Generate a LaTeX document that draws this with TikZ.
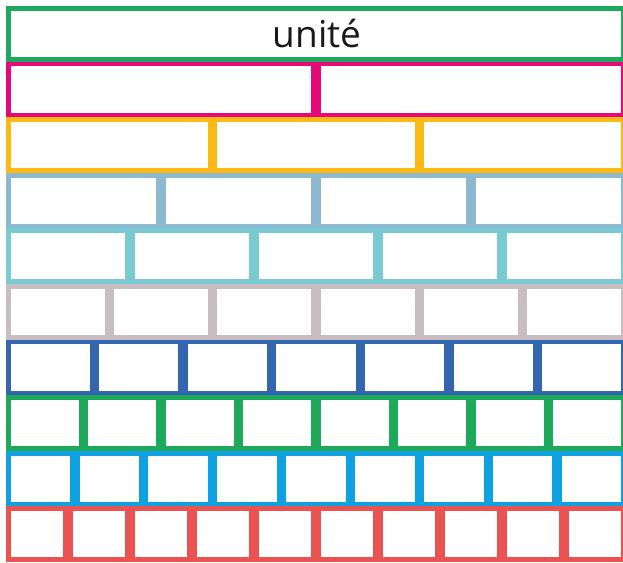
\documentclass[tikz,border=0pt]{standalone}
\usepackage{fontspec}
\setmainfont{Open Sans}
\definecolor{c1}{HTML}{1DA85E}
\definecolor{c2}{HTML}{E5097A}
\definecolor{c3}{HTML}{FDB913}
\definecolor{c4}{HTML}{8DB9D0}
\definecolor{c5}{HTML}{7ACAD4}
\definecolor{c6}{HTML}{C8BEC2}
\definecolor{c7}{HTML}{3466B0}
\definecolor{c8}{HTML}{1EA95A}
\definecolor{c9}{HTML}{0EA1E1}
\definecolor{c10}{HTML}{EB5353}
\tikzset{cellbox/.style={line width=4.7pt}}
\begin{document}
\begin{tikzpicture}[x=1pt,y=1pt]
\useasboundingbox (0,0) rectangle (623,-562);
\clip (0,0) rectangle (623,-562);
\foreach \r in {1,...,10}{
  \pgfmathsetmacro{\top}{6+55.6*(\r-1)}
  \pgfmathsetmacro{\w}{620/\r}
  \foreach \k in {1,...,\r}{
    \pgfmathsetmacro{\xa}{6+\w*(\k-1)+2.35}
    \pgfmathsetmacro{\xb}{6+\w*\k-2.35}
    \pgfmathsetmacro{\ya}{\top+2.35}
    \pgfmathsetmacro{\yb}{\top+55.6-2.35}
    \draw[cellbox,draw=c\r] (\xa,-\ya) rectangle (\xb,-\yb);
  }
}
\node[font=\fontsize{37}{42}\selectfont,text=black!90] (u) at (317,-34) {unité};
\end{tikzpicture}
\end{document}
